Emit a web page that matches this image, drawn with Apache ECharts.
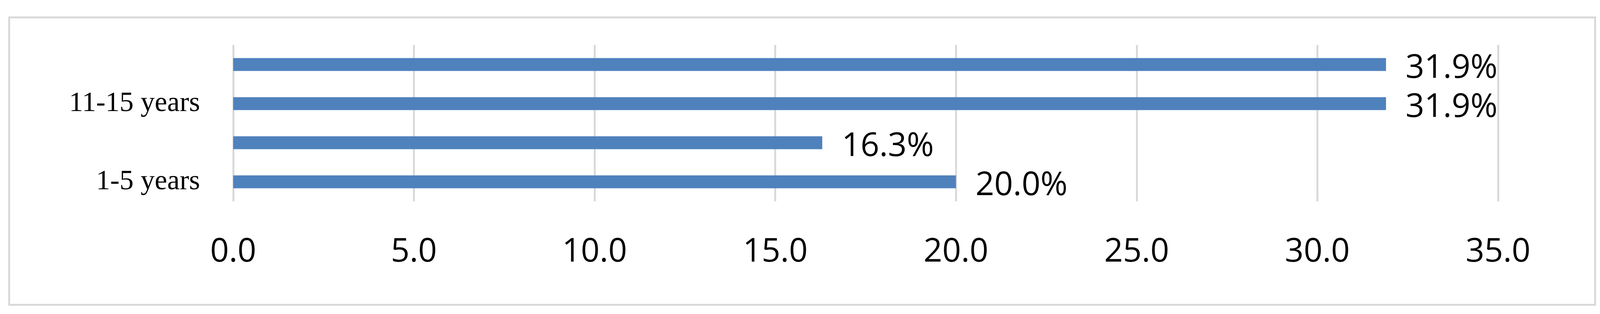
<!DOCTYPE html>
<html>
<head>
<meta charset="utf-8">
<script src="https://cdn.jsdelivr.net/npm/echarts@6/dist/echarts.min.js"></script>
<style>
html, body { margin: 0; padding: 0; background: #fff; }
#frame { position: absolute; left: 21px; top: 42px; width: 4055px; height: 730px; border: 5px solid #d9d9d9; }
#chart { width: 4105px; height: 803px; }
</style>
</head>
<body>
<div id="frame"></div>
<div id="chart"></div>
<script>
// bottom to top
const categories = ['1-5 years', '6-10 years', '11-15 years', 'Above 15 years'];
const values = [20.0, 16.3, 31.9, 31.9];
const xTicks = [0, 35, 5];

const chart = echarts.init(document.getElementById('chart'));
chart.setOption({
    animation: false,
    grid: { left: 597, right: 4105 - 3835, top: 115, bottom: 803 - 515 },
    xAxis: {
        type: 'value',
        min: xTicks[0],
        max: xTicks[1],
        interval: xTicks[2],
        axisLine: { show: false },
        axisTick: { show: false },
        splitLine: { lineStyle: { color: '#d9d9d9', width: 5 } },
        axisLabel: {
            margin: 88,
            fontSize: 84,
            fontFamily: 'Open Sans',
            color: '#000',
            formatter: v => v.toFixed(1),
        },
    },
    yAxis: {
        type: 'category',
        data: categories,
        axisLine: { show: false },
        axisTick: { show: false },
        axisLabel: {
            interval: 1,
            margin: 85,
            fontSize: 72,
            fontFamily: 'Liberation Serif',
            color: '#000',
        },
    },
    series: [{
        type: 'bar',
        data: values,
        barWidth: 33,
        itemStyle: { color: '#4f81bd' },
        label: {
            show: true,
            position: 'right',
            distance: 50,
            offset: [0, 10],
            fontSize: 84,
            fontFamily: 'Open Sans',
            color: '#000',
            formatter: p => p.value.toFixed(1) + '%',
        },
    }],
});
</script>
</body>
</html>
